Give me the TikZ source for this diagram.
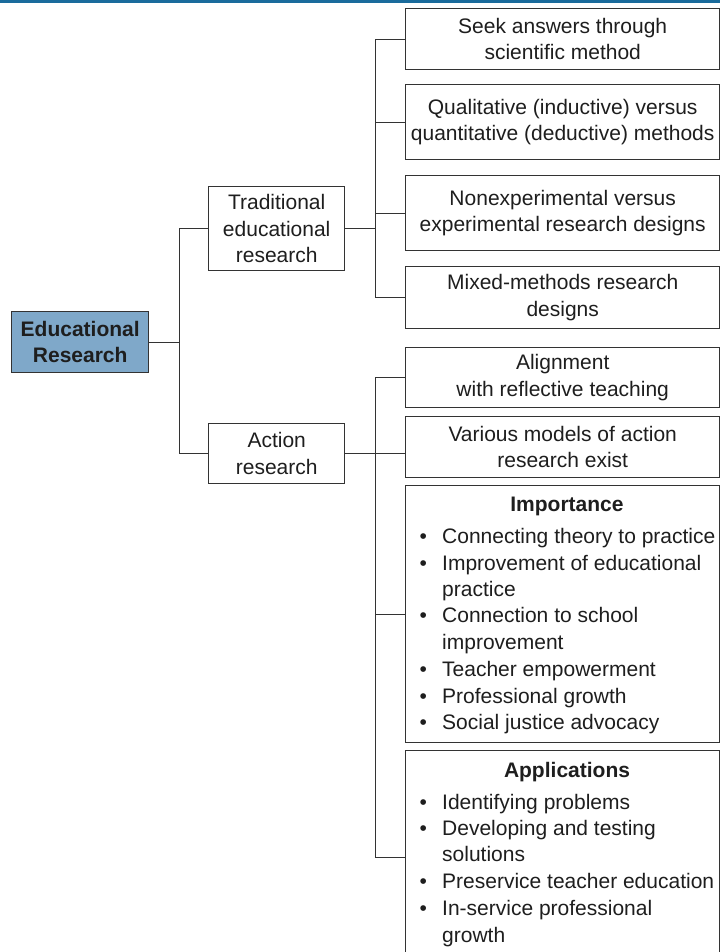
\documentclass[tikz,border=0pt]{standalone}
\usepackage{fontspec}
\setmainfont{Liberation Sans}
\definecolor{edublue}{HTML}{7FA8C9}
\definecolor{topblue}{HTML}{1A6B9C}
\definecolor{linegray}{HTML}{333333}
\definecolor{txt}{HTML}{1E1E1E}
\newcommand{\bl}{\makebox[22.5pt][l]{\textbullet}}
\begin{document}
\begin{tikzpicture}[x=1pt,y=-1pt,
  every node/.style={font=\fontsize{21}{26.5}\selectfont, text=txt},
  box/.style={draw=linegray, line width=1.4pt, inner sep=0pt, align=center, minimum width=314pt, anchor=north west},
  midbox/.style={draw=linegray, line width=1.4pt, inner sep=0pt, align=center, minimum width=136pt, anchor=north west},
  conn/.style={draw=linegray, line width=1.3pt},
  ln/.style={inner sep=0pt, anchor=base west},
  ttl/.style={inner sep=0pt, anchor=base, font=\fontsize{21}{26.5}\selectfont\bfseries}]
\clip (0,0) rectangle (720,952);
\useasboundingbox (0,0) rectangle (720,952);
\fill[white] (0,0) rectangle (720,952);
\fill[topblue] (0,0) rectangle (720,2.7);

% root
\node[draw=linegray, line width=1.4pt, fill=edublue, inner sep=0pt, align=center,
  minimum width=137pt, minimum height=61pt, anchor=north west,
  font=\fontsize{21}{26.5}\selectfont\bfseries] (edu) at (11,311) {Educational\\Research};

% second level
\node[midbox, minimum height=84pt] (trad) at (208,186) {Traditional\\educational\\research};
\node[midbox, minimum height=60pt] (act) at (208,423) {Action\\research};

% traditional children
\node[box, minimum height=61pt] (s1) at (405,8) {Seek answers through\\scientific method};
\node[box, minimum height=75pt] (s2) at (405,84) {Qualitative (inductive) versus\\quantitative (deductive) methods};
\node[box, minimum height=75pt] (s3) at (405,175) {Nonexperimental versus\\experimental research designs};
\node[box, minimum height=62pt] (s4) at (405,266) {Mixed-methods research\\designs};

% action children
\node[box, minimum height=60pt] (a1) at (405,347) {Alignment\\with reflective teaching};
\node[box, minimum height=61pt] (a2) at (405,416) {Various models of action\\research exist};
\node[box, minimum height=257pt] (a3) at (405,485) {};
\node[box, minimum height=214pt] (a4) at (405,750) {};

% Importance content
\node[ttl] (t3) at (567,511) {Importance};
\node[ln] (i1) at (419.5,543) {\bl Connecting theory to practice};
\node[ln] (i2) at (419.5,570) {\bl Improvement of educational};
\node[ln] (i2b) at (442,596) {practice};
\node[ln] (i3) at (419.5,622) {\bl Connection to school};
\node[ln] (i3b) at (442,649) {improvement};
\node[ln] (i4) at (419.5,676) {\bl Teacher empowerment};
\node[ln] (i5) at (419.5,703) {\bl Professional growth};
\node[ln] (i6) at (419.5,729) {\bl Social justice advocacy};

% Applications content
\node[ttl] (t4) at (567,777) {Applications};
\node[ln] (p1) at (419.5,809) {\bl Identifying problems};
\node[ln] (p2) at (419.5,835) {\bl Developing and testing};
\node[ln] (p2b) at (442,861) {solutions};
\node[ln] (p3) at (419.5,888) {\bl Preservice teacher education};
\node[ln] (p4) at (419.5,915) {\bl In-service professional};
\node[ln] (p4b) at (442,942) {growth};

% connectors
\draw[conn] (edu.east) -- ++(30,0) coordinate (j0);
\draw[conn] (trad.west) -| (j0);
\draw[conn] (act.west) -| (j0);

\draw[conn] (trad.east) -- ++(30,0) coordinate (j1);
\draw[conn] (s1.west) -| (j1);
\draw[conn] (s2.west) -| (j1);
\draw[conn] (s3.west) -| (j1);
\draw[conn] (s4.west) -| (j1);

\draw[conn] (act.east) -- ++(30,0) coordinate (j2);
\draw[conn] (a1.west) -| (j2);
\draw[conn] (j2) -- (a2.west |- j2);
\draw[conn] (a3.west) -| (j2);
\draw[conn] (a4.west) -| (j2);
\end{tikzpicture}
\end{document}
